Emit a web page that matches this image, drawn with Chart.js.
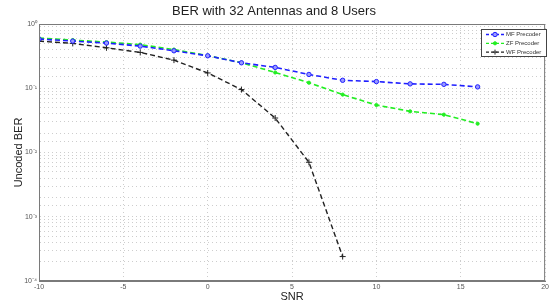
<!DOCTYPE html>
<html lang="en">
<head>
    <meta charset="UTF-8">
    <title>BER with 32 Antennas and 8 Users</title>
    <script src="https://cdn.jsdelivr.net/npm/chart.js"></script>
    <style>
        body {
            margin: 0;
            padding: 0;
            background-color: #ffffff;
        }
        .chart-container {
            width: 551px;
            height: 302px;
        }
    </style>
</head>
<body>
    <div class="chart-container">
        <canvas id="berChart" width="551" height="302"></canvas>
    </div>
    <script>
        // SNR points (dB)
        const snr = [-10, -8, -6, -4, -2, 0, 2, 4, 6, 8, 10, 12, 14, 16];
        const snrWf = [-10, -8, -6, -4, -2, 0, 2, 4, 6, 8];

        // uncoded BER
        const mfBer = [0.583, 0.542, 0.505, 0.453, 0.383, 0.320, 0.249, 0.211, 0.164, 0.133, 0.127, 0.117, 0.115, 0.105];
        const zfBer = [0.604, 0.562, 0.523, 0.478, 0.400, 0.322, 0.250, 0.176, 0.122, 0.0797, 0.0548, 0.0437, 0.0388, 0.0281];
        const wfBer = [0.542, 0.499, 0.426, 0.361, 0.274, 0.173, 0.0954, 0.0344, 0.00705, 0.00024];

        const seriesNames = ['MF Precoder', 'ZF Precoder', 'WF Precoder'];

        const FONT = "'Liberation Sans', Arial, sans-serif";
        const supMap = { '0': '⁰', '1': '¹', '2': '²', '3': '³', '4': '⁴', '5': '⁵', '-': '⁻' };
        function powLabel(e) {
            return '10' + String(e).split('').map(c => supMap[c]).join('');
        }

        function toPoints(xs, ys) {
            return xs.map((x, i) => ({ x: x, y: ys[i] }));
        }

        // box round the plot + legend inside the top right corner
        const framePlugin = {
            id: 'frame',
            afterDraw(chart) {
                const ctx = chart.ctx;
                const a = chart.chartArea;
                ctx.save();
                ctx.strokeStyle = '#7a7a7a';
                ctx.lineWidth = 1;
                ctx.setLineDash([]);
                ctx.strokeRect(a.left + 0.5, a.top + 0.5, a.width - 1, a.height - 1);

                // legend
                const bx = 481.5, by = 29.5, bw = 65, bh = 27;
                ctx.fillStyle = '#ffffff';
                ctx.fillRect(bx, by, bw, bh);
                ctx.strokeStyle = '#444';
                ctx.strokeRect(bx, by, bw, bh);
                ctx.font = '6px ' + FONT;
                ctx.textBaseline = 'middle';
                chart.data.datasets.forEach((ds, i) => {
                    const y = 34.5 + i * 8.8;
                    ctx.strokeStyle = ds.borderColor;
                    ctx.lineWidth = 1.3;
                    ctx.setLineDash([3, 2]);
                    ctx.beginPath();
                    ctx.moveTo(486, y);
                    ctx.lineTo(504, y);
                    ctx.stroke();
                    ctx.setLineDash([]);
                    ctx.fillStyle = ds.pointBackgroundColor;
                    ctx.strokeStyle = ds.pointBorderColor;
                    ctx.lineWidth = 1;
                    ctx.beginPath();
                    if (ds.pointStyle === 'cross') {
                        ctx.moveTo(495 - 2.5, y); ctx.lineTo(495 + 2.5, y);
                        ctx.moveTo(495, y - 2.5); ctx.lineTo(495, y + 2.5);
                        ctx.stroke();
                    } else {
                        ctx.arc(495, y, ds.pointRadius, 0, Math.PI * 2);
                        ctx.fill();
                        ctx.stroke();
                    }
                    ctx.fillStyle = '#333';
                    ctx.fillText(ds.label, 506, y);
                });
                ctx.restore();
            }
        };

        const ctx = document.getElementById('berChart').getContext('2d');
        new Chart(ctx, {
            type: 'line',
            data: {
                datasets: [{
                    label: seriesNames[0],
                    data: toPoints(snr, mfBer),
                    borderColor: '#1f1fff',
                    backgroundColor: '#1f1fff',
                    borderWidth: 1.6,
                    borderDash: [5, 3],
                    pointStyle: 'circle',
                    pointRadius: 2.2,
                    pointBackgroundColor: '#9a9aff',
                    pointBorderColor: '#1f1fff',
                    pointBorderWidth: 1,
                    fill: false
                }, {
                    label: seriesNames[1],
                    data: toPoints(snr, zfBer),
                    borderColor: '#22ee22',
                    backgroundColor: '#22ee22',
                    borderWidth: 1.6,
                    borderDash: [5, 3],
                    pointStyle: 'circle',
                    pointRadius: 1.6,
                    pointBackgroundColor: '#22ee22',
                    pointBorderColor: '#22ee22',
                    pointBorderWidth: 1,
                    fill: false
                }, {
                    label: seriesNames[2],
                    data: toPoints(snrWf, wfBer),
                    borderColor: '#222222',
                    backgroundColor: '#222222',
                    borderWidth: 1.4,
                    borderDash: [5, 3],
                    pointStyle: 'cross',
                    pointRadius: 3,
                    pointBackgroundColor: '#222222',
                    pointBorderColor: '#222222',
                    pointBorderWidth: 1,
                    fill: false
                }]
            },
            options: {
                responsive: false,
                animation: false,
                layout: {
                    padding: { left: 0, right: 3, top: 0, bottom: 0 }
                },
                plugins: {
                    legend: { display: false },
                    tooltip: { enabled: false },
                    title: {
                        display: true,
                        text: 'BER with 32 Antennas and 8 Users',
                        color: '#222',
                        font: { family: FONT, size: 13, weight: 'normal', lineHeight: 1.2 },
                        padding: { top: 4, bottom: 4.4 }
                    }
                },
                scales: {
                    x: {
                        type: 'linear',
                        min: -10,
                        max: 20,
                        afterFit(scale) { scale.height = 21; },
                        ticks: {
                            stepSize: 5,
                            padding: 2,
                            color: '#555',
                            font: { family: FONT, size: 7 },
                            maxRotation: 0
                        },
                        grid: {
                            color: '#cdcdcd',
                            lineWidth: 1,
                            drawTicks: false
                        },
                        border: { color: '#7a7a7a', dash: [1, 3] },
                        title: {
                            display: true,
                            text: 'SNR',
                            color: '#222',
                            font: { family: FONT, size: 11, lineHeight: 1 },
                            padding: { top: 0, bottom: 0 }
                        }
                    },
                    y: {
                        type: 'logarithmic',
                        min: 1e-4,
                        max: 1,
                        afterFit(scale) { scale.width = 39; },
                        ticks: {
                            autoSkip: false,
                            padding: 2,
                            color: '#555',
                            font: { family: FONT, size: 7 },
                            callback: function (v) {
                                const e = Math.log10(v);
                                return Math.abs(e - Math.round(e)) < 1e-6 ? powLabel(Math.round(e)) : '';
                            }
                        },
                        grid: {
                            color: '#cdcdcd',
                            lineWidth: 1,
                            drawTicks: false
                        },
                        border: { color: '#7a7a7a', dash: [1, 3] },
                        title: {
                            display: true,
                            text: 'Uncoded BER',
                            color: '#222',
                            font: { family: FONT, size: 11, lineHeight: 1 },
                            padding: { top: 13, bottom: 0 }
                        }
                    }
                }
            },
            plugins: [framePlugin]
        });
    </script>
</body>
</html>
